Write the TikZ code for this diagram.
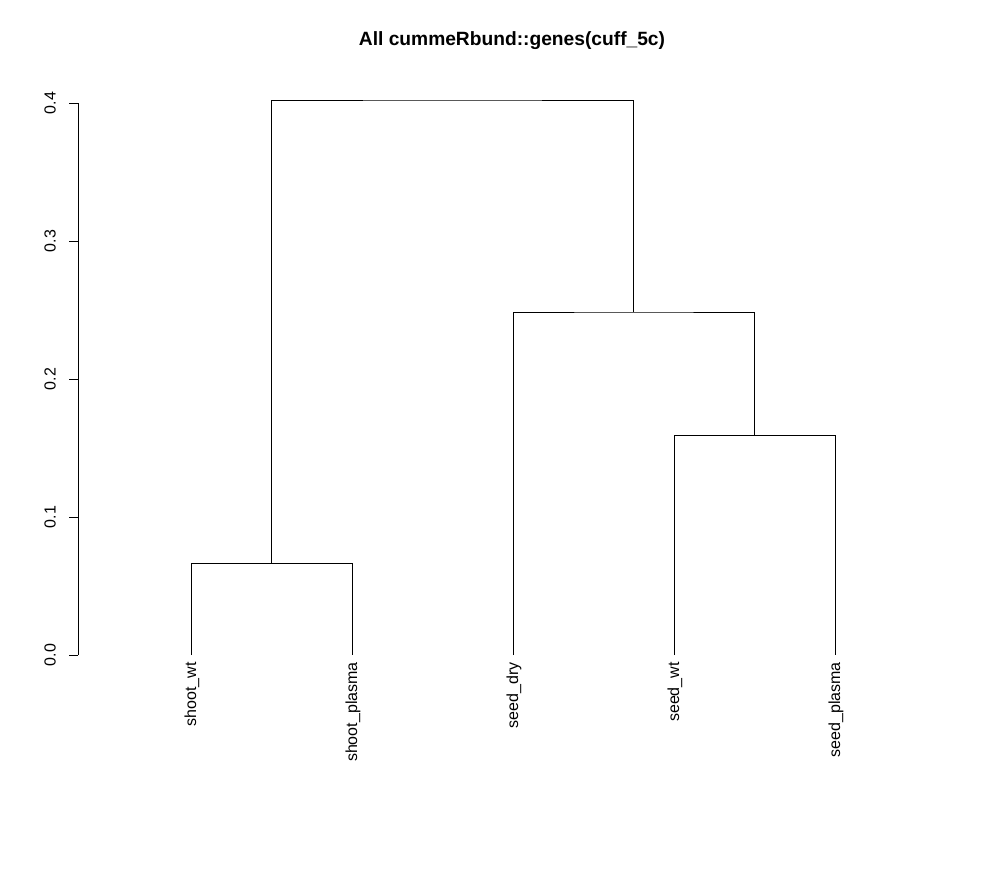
\documentclass[tikz,border=0pt]{standalone}
\usepackage{fontspec}
\setmainfont{Liberation Sans}
\tikzset{
  leaflabel/.style={rotate=90,anchor=east,inner sep=0.75pt,font=\fontsize{12}{14}\selectfont},
  ticklabel/.style={rotate=90,anchor=south,inner sep=0.75pt,font=\fontsize{12}{14}\selectfont},
}
\begin{document}
\begin{tikzpicture}[x=0.75pt,y=0.75pt,yscale=-1,xscale=1]
\path[use as bounding box,fill=white] (0,0) rectangle (988,872);

% Leaves
\coordinate (shootwt) at (191,655);
\coordinate (shootplasma) at (352,655);
\coordinate (seeddry) at (513,655);
\coordinate (seedwt) at (674,655);
\coordinate (seedplasma) at (835,655);
% Merges
\coordinate (mshoot) at (271.5,563);
\coordinate (mseed) at (754.5,435);
\coordinate (mseeddry) at (633.75,312);
\coordinate (mroot) at (452.6,100);

% Dendrogram
\draw (shootwt) |- (mshoot) -| (shootplasma);
\draw (seedwt) |- (mseed) -| (seedplasma);
\draw (seeddry) |- (mseeddry) -| (mseed);
\draw (mshoot) |- (mroot) -| (mseeddry);

% Axis
\draw (78,655) -- (78,103);
\foreach \v/\y in {0.0/655,0.1/517,0.2/379,0.3/241,0.4/103}{
  \draw (78,\y) -- (69,\y);
  \node[ticklabel] (t\v) at (57,\y) {\v};
}

% Text Node
\node[leaflabel] (lshootwt) at (192,661) {shoot\_wt};
\node[leaflabel] (lshootplasma) at (353,661) {shoot\_plasma};
\node[leaflabel] (lseeddry) at (514,661) {seed\_dry};
\node[leaflabel] (lseedwt) at (675,661) {seed\_wt};
\node[leaflabel] (lseedplasma) at (836,661) {seed\_plasma};
% Title
\node[font=\bfseries\fontsize{14.4}{17}\selectfont] (title) at (512,41) {All cummeRbund::genes(cuff\_5c)};

\end{tikzpicture}
\end{document}
